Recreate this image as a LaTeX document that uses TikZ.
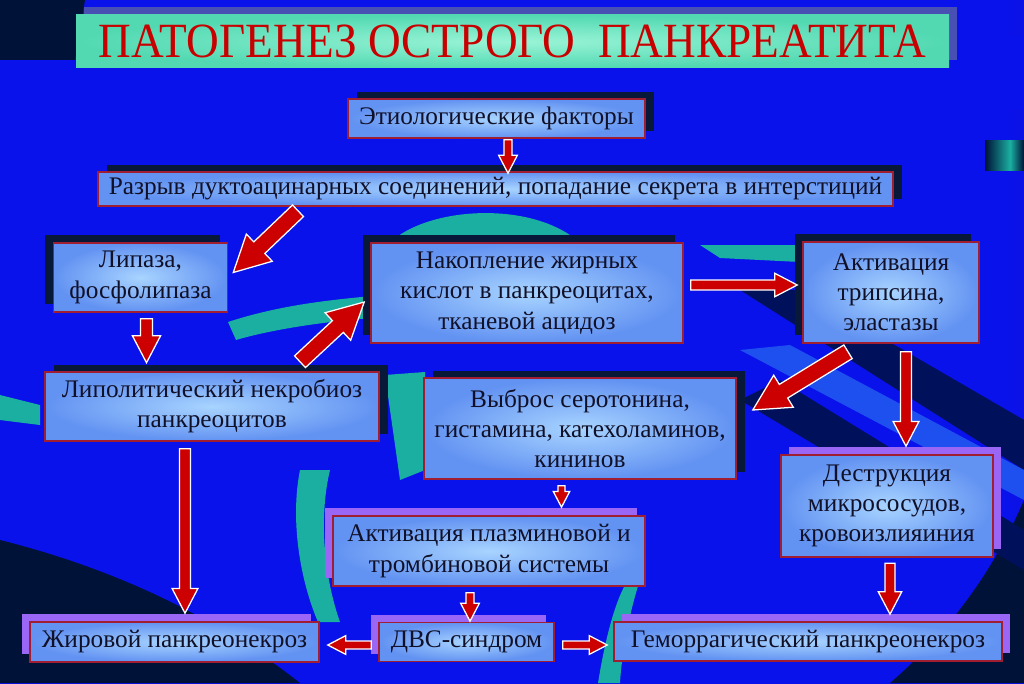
\documentclass[tikz,border=0pt]{standalone}
\usepackage{fontspec}
\setmainfont{Liberation Serif}
\usetikzlibrary{calc,shadows}

\definecolor{bgblue}{HTML}{0A12EC}
\definecolor{bgnavy}{HTML}{00105A}
\definecolor{bgdark}{HTML}{001238}
\definecolor{bgteal}{HTML}{1AAFA0}
\definecolor{bglight}{HTML}{1E50F0}
\definecolor{boxred}{HTML}{A01E32}
\definecolor{boxlight}{HTML}{A8D4FF}
\definecolor{boxdark}{HTML}{6292F2}
\definecolor{shviolet}{HTML}{9966F5}
\definecolor{shdark}{HTML}{081838}
\definecolor{titleteal}{HTML}{52D9B2}
\definecolor{titlelight}{HTML}{9AF4D6}
\definecolor{titleshade}{HTML}{4850B4}
\definecolor{titlered}{HTML}{C80000}
\definecolor{arrowred}{HTML}{CC0000}
\definecolor{textdark}{HTML}{101028}

\pgfdeclarehorizontalshading{bgshade}{100bp}{color(0bp)=(bgdark); color(20bp)=(bgblue);
  color(74bp)=(bgblue); color(100bp)=(bgdark)}

\newcommand{\boxfont}{\fontsize{18pt}{21.5pt}\selectfont}

\tikzset{
  box/.style={draw=boxred, line width=1.1pt, inner color=boxlight, outer color=boxdark,
    text=textdark, font=\boxfont, align=center, inner sep=2pt},
  wd/.style={minimum width=#1*0.025cm},
  ht/.style={minimum height=#1*0.025cm},
  vshadowL/.style={drop shadow={shadow xshift=-0.2cm, shadow yshift=0.2cm, fill=shviolet, opacity=1}},
  vshadowR/.style={drop shadow={shadow xshift=0.2cm, shadow yshift=0.2cm, fill=shviolet, opacity=1}},
  dshadowL/.style={drop shadow={shadow xshift=-0.2cm, shadow yshift=0.2cm, fill=shdark, opacity=1}},
  dshadowR/.style={drop shadow={shadow xshift=0.22cm, shadow yshift=0.18cm, fill=shdark, opacity=1}},
  redarrow/.style={draw=white, line width=0.9pt, fill=arrowred, line join=miter}
}

% block arrow: #1 half shaft width (px), #2 tail, #3 tip
\newcommand{\fatarrow}[3]{%
  \pgfmathsetlengthmacro{\faw}{#1*0.025cm}%
  \pgfmathsetlengthmacro{\faW}{2.35*#1*0.025cm}%
  \pgfmathsetlengthmacro{\faL}{4.5*#1*0.025cm}%
  \coordinate (fa-s) at #2;
  \coordinate (fa-e) at #3;
  \coordinate (fa-h) at ($(fa-e)!\faL!(fa-s)$);
  \filldraw[redarrow] ($(fa-s)!\faw!90:(fa-e)$) -- ($(fa-h)!\faw!90:(fa-e)$)
    -- ($(fa-h)!\faW!90:(fa-e)$) -- (fa-e) -- ($(fa-h)!\faW!-90:(fa-e)$)
    -- ($(fa-h)!\faw!-90:(fa-e)$) -- ($(fa-s)!\faw!-90:(fa-e)$) -- cycle;
}

\begin{document}
\begin{tikzpicture}[x=0.025cm, y=-0.025cm]
  \useasboundingbox (0,0) rectangle (1024,683);

  % background
  \shade[shading=bgshade] (0,0) rectangle (1024,683);
  \fill[bgblue] (0,58) .. controls (150,55) and (300,60) .. (360,60) -- (360,95)
    .. controls (250,92) and (120,95) .. (0,100) -- cycle;
  \fill[bgblue] (0,190) -- (100,188) -- (100,204) -- (0,208) -- cycle;
  \fill[bgblue] (940,40) -- (1024,35) -- (1024,110) -- (985,105) .. controls (970,80) and (955,60) .. (940,40) -- cycle;
  \fill[bgblue] (80,0) -- (1000,0) -- (1000,8) -- (80,12) -- cycle;
  \fill[bgdark] (0,0) -- (85,0) -- (75,60) -- (0,60) -- cycle;
  \fill[bgdark] (0,540) .. controls (120,570) and (220,620) .. (300,683) -- (0,683) -- cycle;
  \fill[bgdark] (1024,500) -- (1024,683) -- (890,683) .. controls (940,640) and (990,580) .. (1024,500) -- cycle;
  \fill[bgnavy] (740,290) -- (800,290) -- (1024,420) -- (1024,470) -- cycle;
  \fill[bgnavy] (740,400) -- (780,380) -- (1024,530) -- (1024,570) -- cycle;
  \fill[bglight] (740,350) -- (790,345) -- (1024,470) -- (1024,500) -- cycle;
  \fill[bgteal] (385,248) .. controls (420,205) and (540,198) .. (585,248) -- cycle;
  \fill[bgteal] (228,322) .. controls (280,305) and (330,300) .. (372,296) -- (372,318)
    .. controls (320,322) and (270,330) .. (236,340) -- cycle;
  \fill[bgteal] (385,375) -- (425,372) -- (425,470) -- (400,480) -- cycle;
  \fill[bgteal] (300,470) .. controls (290,520) and (300,580) .. (318,622) -- (340,622)
    .. controls (325,580) and (318,520) .. (330,470) -- cycle;
  \fill[bgteal] (598,683) .. controls (605,640) and (615,600) .. (628,580) -- (640,580)
    .. controls (630,610) and (622,650) .. (620,683) -- cycle;
  \fill[bgteal] (0,395) -- (40,405) -- (40,425) -- (0,420) -- cycle;
  \fill[bgteal] (700,245) -- (800,245) -- (800,262) -- (720,258) -- cycle;
  \shade[left color=bgdark, right color=bgteal] (985,140) rectangle (1010,170);
  \shade[left color=bgteal, right color=bgdark] (1010,140) rectangle (1024,170);

  % title
  \node[draw=none, inner color=titlelight, outer color=titleteal, wd=873, ht=53,
    drop shadow={shadow xshift=0.2cm, shadow yshift=0.2cm, fill=titleshade, opacity=1},
    text=titlered, font=\fontsize{35pt}{38pt}\selectfont] (title) at (512.5,41.5)
    {\scalebox{0.92}[1]{ПАТОГЕНЕЗ ОСТРОГО\ \ ПАНКРЕАТИТА}};

  % boxes
  \node[box, dshadowR, wd=297, ht=39] (etio) at (496.5,118.5) {Этиологические факторы};
  \node[box, dshadowR, wd=795, ht=34] (razryv) at (495.5,189)
    {Разрыв дуктоацинарных соединений, попадание секрета в интерстиций};
  \node[box, dshadowL, wd=174, ht=69] (lipaza) at (140.5,277.5) {Липаза,\\фосфолипаза};
  \node[box, dshadowR, wd=334, ht=69] (lipolit) at (212,406.5)
    {Липолитический некробиоз\\панкреоцитов};
  \node[box, dshadowL, wd=312, ht=100] (nakopl) at (527,293)
    {Накопление жирных\\кислот в панкреоцитах,\\тканевой ацидоз};
  \node[box, dshadowL, wd=176, ht=101] (tripsin) at (891,292.5)
    {Активация\\трипсина,\\эластазы};
  \node[box, dshadowR, wd=312, ht=101] (vybros) at (580,428.5)
    {Выброс серотонина,\\гистамина, катехоламинов,\\кининов};
  \node[box, vshadowR, wd=212, ht=102] (destr) at (887,506)
    {Деструкция\\микрососудов,\\кровоизлияиния};
  \node[box, vshadowL, wd=312, ht=70] (plazm) at (489,551)
    {Активация плазминовой и\\тромбиновой системы};
  \node[box, vshadowL, wd=289, ht=40] (zhir) at (174.5,642) {Жировой панкреонекроз};
  \node[box, vshadowL, wd=175, ht=39] (dvs) at (466.5,642) {ДВС-синдром};
  \node[box, vshadowR, wd=388, ht=39] (gemorr) at (808,641.5) {Геморрагический панкреонекроз};

  % arrows
  \fatarrow{4}{($(etio.south)+(11.5,1)$)}{($(razryv.north)+(12.5,2)$)}
  \fatarrow{8}{($(razryv.south)+(-197.5,4)$)}{($(lipaza.east)+(5,-5)$)}
  \fatarrow{6}{($(lipaza.south)+(6,6)$)}{($(lipolit.north)+(-65.5,-8.5)$)}
  \fatarrow{8}{($(lipolit.north)+(88,-9.5)$)}{($(nakopl.west)+(-6,9)$)}
  \fatarrow{5}{($(nakopl.east)+(7,-8)$)}{($(tripsin.west)+(-5,-7.5)$)}
  \fatarrow{8}{($(tripsin.south)+(-43,8)$)}{($(vybros.east)+(16,-18.5)$)}
  \fatarrow{5.5}{($(tripsin.south)+(15,8)$)}{($(destr.north)+(19,-8)$)}
  \fatarrow{3.5}{($(vybros.south)+(-18.5,6)$)}{($(plazm.north)+(72.5,-8)$)}
  \fatarrow{5.5}{($(lipolit.south)+(-27,7)$)}{($(zhir.north)+(10.5,-8)$)}
  \fatarrow{4}{($(plazm.south)+(-19,6)$)}{($(dvs.north)+(3.5,-0.5)$)}
  \fatarrow{4}{($(dvs.west)+(-7,3)$)}{($(zhir.east)+(8,3)$)}
  \fatarrow{4}{($(dvs.east)+(8,3)$)}{($(gemorr.west)+(-6,3.5)$)}
  \fatarrow{5}{($(destr.south)+(3,5.5)$)}{($(gemorr.north)+(82,-7)$)}
\end{tikzpicture}
\end{document}
